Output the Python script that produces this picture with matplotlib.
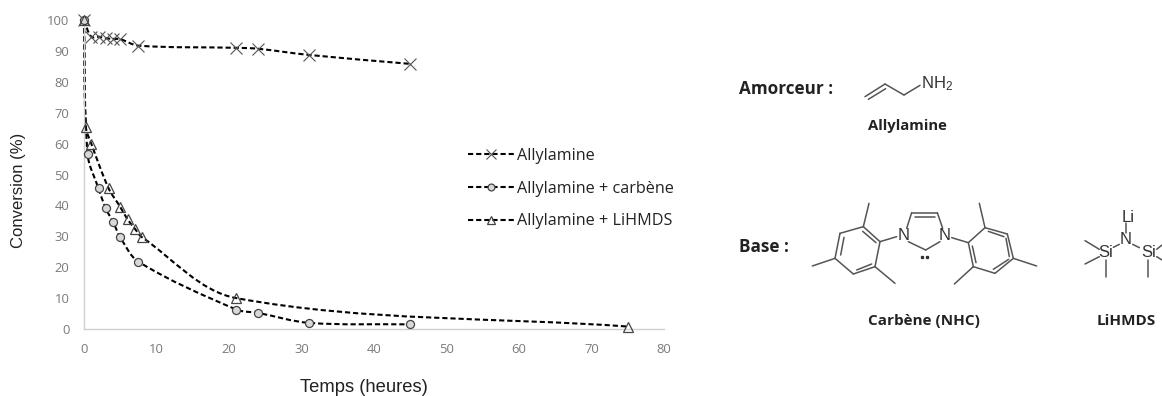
import math
import matplotlib
matplotlib.use("Agg")
import matplotlib.pyplot as plt
from matplotlib.path import Path
from matplotlib.patches import PathPatch
from matplotlib.lines import Line2D

allyl_x = [0, 1, 2, 3, 4, 5, 7.5, 21, 24, 31, 45]
allyl_y = [100, 94.6, 94.6, 94.1, 93.9, 93.8, 91.7, 91, 90.7, 88.7, 85.8]
carb_x = [0, 0.5, 2, 3, 4, 5, 7.5, 21, 24, 31, 45]
carb_y = [100, 56.5, 45.5, 39, 34.7, 29.7, 21.8, 6.3, 5.2, 2, 1.5]
lihm_x = [0, 0.25, 1, 3.4, 5, 6, 7, 8, 21, 75]
lihm_y = [100, 65.5, 60, 45.5, 39.5, 35.5, 32.5, 29.7, 10, 0.8]
labels = ["Allylamine", "Allylamine + carbène", "Allylamine + LiHMDS"]
xticks = list(range(0, 90, 10))
yticks = list(range(0, 110, 10))

plt.rcParams["mathtext.default"] = "regular"
plt.rcParams["mathtext.fontset"] = "custom"
plt.rcParams["mathtext.rm"] = "Liberation Sans"

W, H = 1162, 396
fig = plt.figure(figsize=(W / 100, H / 100), dpi=100)
ax = fig.add_axes([84 / W, 1 - 329 / H, 580 / W, 309 / H])
ax.set_xlim(0, 80)
ax.set_ylim(0, 100)
for s in ("top", "right"):
    ax.spines[s].set_visible(False)
for s in ("left", "bottom"):
    ax.spines[s].set_color("#d0d0d0")
    ax.spines[s].set_linewidth(1.0)
GREY = "#7a7a7a"
ax.set_xticks(xticks)
ax.set_yticks(yticks)
ax.tick_params(length=0, labelsize=9.4, labelcolor=GREY)
for t in ax.get_xticklabels() + ax.get_yticklabels():
    t.set_fontfamily("Open Sans")
ax.tick_params(axis="x", pad=10)
ax.tick_params(axis="y", pad=10.5)
ax.set_xlabel("Temps (heures)", fontsize=13.2, family="Liberation Sans", color="#222222", va="center")
ax.xaxis.set_label_coords((364 - 84) / 580, -(388 - 329) / 309)
ax.set_ylabel("Conversion (%)", fontsize=12, family="Liberation Sans", color="#222222", va="center")
ax.yaxis.set_label_coords((19 - 84) / 580, (329 - 190) / 309)

SX, SY = 580 / 80, 309 / 100


def smooth(xs, ys):
    """Smooth the line through the data points as the spreadsheet does."""
    v = [(Path.MOVETO, (xs[0], ys[0]))]
    n = len(xs)

    def tangent(i):
        a, b = max(i - 1, 0), min(i + 1, n - 1)
        dx, dy = (xs[b] - xs[a]) * SX, (ys[b] - ys[a]) * SY
        d = math.hypot(dx, dy) or 1
        return dx / d, dy / d

    for i in range(n - 1):
        L = math.hypot((xs[i + 1] - xs[i]) * SX, (ys[i + 1] - ys[i]) * SY) / 3
        t1, t2 = tangent(i), tangent(i + 1)
        c1 = (xs[i] + t1[0] * L / SX, ys[i] + t1[1] * L / SY)
        c2 = (xs[i + 1] - t2[0] * L / SX, ys[i + 1] - t2[1] * L / SY)
        v += [(Path.CURVE4, c1), (Path.CURVE4, c2), (Path.CURVE4, (xs[i + 1], ys[i + 1]))]
    codes, verts = zip(*v)
    return Path(verts, codes)


DASH = (0, (2.5, 1.4))
LW = 1.5
styles = [
    dict(marker="x", ms=8.3, mfc="none", mec="#555555", mew=0.8),
    dict(marker="o", ms=5.8, mfc="#d9d9d9", mec="#444444", mew=0.9),
    dict(marker="^", ms=7, mfc="none", mec="#444444", mew=0.9),
]
series = [(allyl_x, allyl_y), (carb_x, carb_y), (lihm_x, lihm_y)]
for (x, y), st in zip(series, styles):
    ax.add_patch(PathPatch(smooth(x, y), fill=False, ec="black", lw=LW, ls=DASH, clip_on=False))
    ax.plot(x, y, ls="none", clip_on=False, zorder=4, **st)

handles = [Line2D([], [], color="black", lw=LW, ls=DASH, **{**st, "ms": st["ms"] * 0.85}) for st in styles]
ax.legend(handles, labels, frameon=False, loc="upper left",
          bbox_to_anchor=((468 - 84) / 580, (329 - 148) / 309),
          prop={"family": "Open Sans", "size": 11.6},
          handlelength=2.85, handletextpad=0.2, labelspacing=1.03, borderpad=0, borderaxespad=0,
          labelcolor="#222222")

# Overlay for the text and formulas on the right, in crop units (3x pixels from (720, 60))
ov = fig.add_axes([0, 0, 1, 1])
ov.set_xlim(0, W)
ov.set_ylim(H, 0)
ov.axis("off")
ov.patch.set_alpha(0)


def P(x, y):
    return 720 + x / 3, 60 + y / 3


BOND = "#555555"
bonds = [
    # allylamine
    (435, 110, 495, 72), (445, 118, 497, 86), (495, 72, 552, 105), (552, 105, 600, 76),
    # carbene: left ring
    (430, 500, 480, 545), (480, 545, 465, 620), (465, 620, 400, 642), (400, 642, 345, 595),
    (345, 595, 360, 520), (360, 520, 430, 500),
    (372, 532, 362, 585), (428, 514, 468, 548), (410, 630, 455, 612),
    (430, 500, 447, 430), (465, 620, 525, 670), (345, 595, 277, 618), (480, 545, 530, 530),
    # carbene: ring in the middle
    (560, 505, 575, 458), (575, 458, 652, 458), (585, 470, 645, 470), (652, 458, 668, 505),
    (565, 545, 617, 570), (617, 570, 660, 545),
    # carbene: right ring
    (695, 533, 745, 548), (745, 548, 795, 503), (795, 503, 862, 522), (862, 522, 880, 595),
    (880, 595, 825, 640), (825, 640, 760, 620), (760, 620, 745, 548),
    (805, 514, 852, 530), (868, 590, 858, 535), (820, 628, 866, 598), (757, 558, 768, 608),
    (795, 503, 778, 430), (880, 595, 950, 618), (760, 620, 703, 672),
    # LiHMDS
    (1218, 490, 1218, 518), (1198, 553, 1180, 562), (1238, 553, 1258, 563),
    (1095, 542, 1138, 568), (1095, 612, 1138, 590), (1157, 600, 1157, 650),
    (1285, 600, 1285, 650), (1310, 568, 1326, 555), (1310, 590, 1326, 600),
]
for x0, y0, x1, y1 in bonds:
    a, b = P(x0, y0), P(x1, y1)
    ov.plot([a[0], b[0]], [a[1], b[1]], color=BOND, lw=1.1, solid_capstyle="round", clip_on=False)
dots = [(605, 590), (622, 590)]
ov.plot(*zip(*[P(*d) for d in dots]), ls="none", marker="s", ms=1.4, color="#333333")

atoms = [("NH$_2$", 603, 72, "left"), ("N", 552, 527, "center"), ("N", 675, 527, "center"),
         ("Li", 1225, 472, "center"), ("N", 1218, 540, "center"), ("Si", 1158, 578, "center"),
         ("Si", 1285, 578, "center")]
for s, x, y, ha in atoms:
    px, py = P(x, y)
    ov.text(px, py, s, family="Liberation Sans", fontsize=12, color="#333333", ha=ha, va="center")

bold = [("Amorceur :", 57, 87, "left", 12.3), ("Base :", 57, 561, "left", 12.3),
        ("Allylamine", 563, 197, "center", 10.7), ("Carbène (NHC)", 612, 783, "center", 11),
        ("LiHMDS", 1220, 783, "center", 11)]
for s, x, y, ha, fs in bold:
    px, py = P(x, y)
    ov.text(px, py, s, family="Open Sans", weight="bold", fontsize=fs, color="#222222", ha=ha, va="center")

fig.savefig("out.png", dpi=100)
